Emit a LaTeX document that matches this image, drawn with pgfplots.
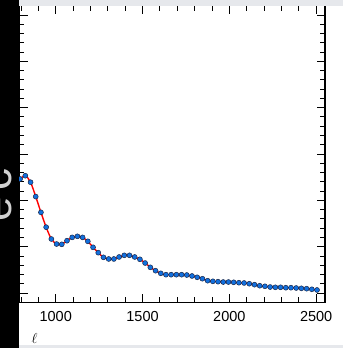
\documentclass[border=0pt]{standalone}
\usepackage{fontspec}
\setmainfont{Liberation Sans}
\usepackage{pgfplots}
\pgfplotsset{compat=1.18}
\usepackage{pgfplotstable}

\definecolor{ptblue}{RGB}{18,112,222}
\definecolor{ptedge}{RGB}{20,30,60}
\definecolor{bandgray}{RGB}{230,232,236}

% Binned temperature power spectrum, Delta ell = 30
\pgfplotstableread{
ell D
795 2460
825 2530
855 2390
885 2080
915 1740
945 1420
975 1165
1005 1057
1035 1050
1065 1128
1095 1200
1125 1223
1155 1200
1185 1115
1215 986
1245 870
1275 770
1305 734
1335 734
1365 777
1395 813
1425 813
1455 777
1485 727
1515 647
1545 554
1575 481
1605 425
1635 395
1665 395
1695 395
1725 395
1755 388
1785 367
1815 339
1845 308
1875 265
1905 252
1935 244
1965 237
1995 237
2025 231
2055 222
2085 216
2115 200
2145 179
2175 157
2205 145
2235 129
2265 123
2295 123
2325 114
2355 114
2385 108
2415 101
2445 93
2475 80
2505 65
}\spectrum

\begin{document}
\begin{tikzpicture}[x=1pt,y=1pt]
\useasboundingbox (0,0) rectangle (343,348);
\clip (0,0) rectangle (343,348);
\fill[white] (0,0) rectangle (343,348);
\begin{axis}[
  at={(19pt,45.73pt)}, anchor=south west,
  scale only axis, width=306pt, height=296.64pt,
  xmin=788.6, xmax=2551, ymin=-200, ymax=6200,
  xtick={1000,1500,2000,2500},
  minor xtick={800,900,...,2500},
  ytick={0,1000,...,6000},
  minor ytick={200,400,...,6000},
  yticklabels={},
  tick align=inside,
  major tick length=8.5pt, minor tick length=5pt,
  every tick/.style={black, line width=0.8pt},
  axis line style={black, line width=1.2pt},
  ticklabel style={font=\fontsize{14.5}{17}\selectfont},
  /pgf/number format/assume math mode=true,
  /pgf/number format/1000 sep={},
  xticklabel style={yshift=-6pt},
  clip=true,
]
\addplot[red, line width=1.4pt, smooth] table[x=ell, y=D] {\spectrum};
\addplot[only marks, mark=*, mark size=2.5pt,
  mark options={fill=ptblue, draw=ptedge, line width=0.45pt}]
  table[x=ell, y=D] {\spectrum};
\end{axis}
% dark strip on the left with the rotated quantity
\fill[black] (0,0) rectangle (19.3,348);
\node[rotate=90, anchor=base west, inner sep=0pt, text=black!18,
  font=\fontsize{44}{44}\selectfont] at (11,126) {e\hspace{7pt}c};
% light bands along the top and bottom edges
\fill[bandgray] (19.3,342) rectangle (343,348);
\node[font=\fontsize{15}{17}\selectfont] at (34.5,9.5) {$\ell$};
\fill[bandgray] (19.3,0) rectangle (343,3.2);
\end{tikzpicture}
\end{document}
